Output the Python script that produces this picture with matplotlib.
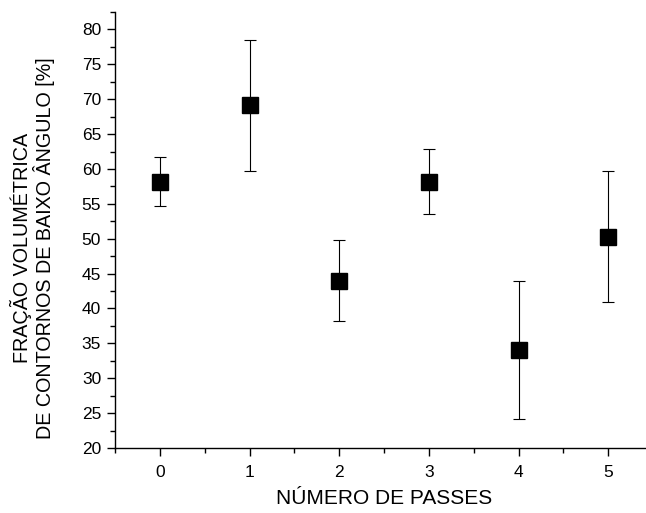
import matplotlib
matplotlib.use("Agg")
import matplotlib.pyplot as plt
from matplotlib.ticker import MultipleLocator

plt.rcParams['font.family'] = ['Liberation Sans', 'DejaVu Sans']

passes = [0, 1, 2, 3, 4, 5]
fraction = [58.2, 69.1, 44.0, 58.2, 34.0, 50.3]
error = [3.5, 9.4, 5.8, 4.7, 9.9, 9.4]

fig = plt.figure(figsize=(6.46, 5.13), dpi=100)
ax = fig.add_axes([115 / 646, 1 - 448 / 513, 1 - 115 / 646, (448 - 12) / 513])

ax.errorbar(passes, fraction, yerr=error, fmt='s', color='black', ms=11,
            ecolor='black', elinewidth=0.8, capsize=4, capthick=0.8)

ax.set_xlim(-0.5, 5.42)
ax.set_ylim(20, 82.5)
ax.xaxis.set_major_locator(MultipleLocator(1))
ax.xaxis.set_minor_locator(MultipleLocator(0.5))
ax.yaxis.set_major_locator(MultipleLocator(5))
ax.yaxis.set_minor_locator(MultipleLocator(2.5))

ax.spines['top'].set_visible(False)
ax.spines['right'].set_visible(False)
for s in ['left', 'bottom']:
    ax.spines[s].set_linewidth(1.0)

ax.tick_params(which='major', direction='out', length=6, width=1.0, labelsize=12.5, pad=4)
ax.tick_params(axis='x', which='major', pad=6)
ax.tick_params(which='minor', direction='out', length=3.5, width=1.0)

ax.set_xlabel('NÚMERO DE PASSES', fontsize=15)
ax.set_ylabel('FRAÇÃO VOLUMÉTRICA\nDE CONTORNOS DE BAIXO ÂNGULO [%]', fontsize=14.2,
              linespacing=1.05)
ax.xaxis.set_label_coords(0.507, -0.094)
ax.yaxis.set_label_coords(-0.155, 0.459)
ax.yaxis.label.set_va('center')
ax.xaxis.label.set_va('top')

fig.savefig('out.png', dpi=100)
